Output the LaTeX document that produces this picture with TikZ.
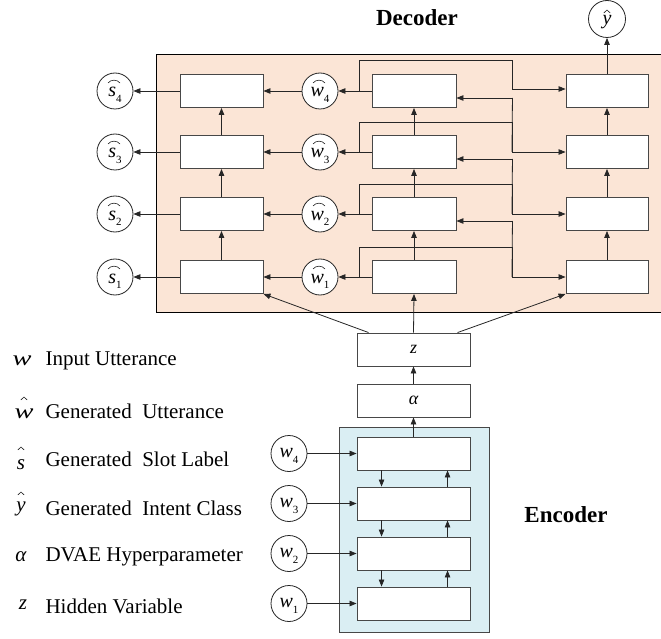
\documentclass[tikz,border=0pt]{standalone}
\usepackage{fontspec}
\setmainfont{Liberation Serif}
\usetikzlibrary{arrows.meta,calc}
\definecolor{decfill}{HTML}{FBE5D6}
\definecolor{encfill}{HTML}{DAEEF3}
\definecolor{ink}{HTML}{262626}

% italic letters with an upright subscript
\newcommand{\sub}[2]{{\itshape #1}\raisebox{-0.28em}{\fontsize{11}{11}\selectfont #2}}
\newcommand{\wideW}{\scalebox{1.35}[1]{\itshape w}}

\tikzset{
  cell/.style={draw=ink!85, fill=white, line width=0.9pt, minimum width=83pt,
               minimum height=33pt, inner sep=0pt},
  wcell/.style={cell, minimum width=113pt},
  var/.style={circle, draw=ink, fill=white, line width=0.8pt, minimum size=36pt,
              inner sep=0pt},
  lbl/.style={inner sep=0pt, font=\fontsize{20}{20}\selectfont},
  link/.style={draw=ink, line width=0.8pt},
  arr/.style={link, -{Triangle[length=7pt,width=5.5pt]}},
  heading/.style={font=\fontsize{23}{26}\selectfont\bfseries},
  legsym/.style={inner sep=0pt, font=\fontsize{21}{24}\selectfont},
  legtxt/.style={font=\fontsize{21}{24}\selectfont, anchor=west},
  archat/.pic={\draw[ink, line width=0.6pt] (-6,2) .. controls (-3,-1.8) and (3,-1.8) .. (6,2);},
  chevhat/.pic={\draw[ink, line width=0.6pt] (-3.2,2) -- (0,-1) -- (3.2,2);},
}

\begin{document}
\begin{tikzpicture}[x=1pt, y=-1pt]
\useasboundingbox (0,0) rectangle (661,639);

% panels
\draw[fill=decfill, draw=black, line width=0.9pt] (156,54) rectangle (664,312);
\draw[fill=encfill, draw=ink!85, line width=0.9pt] (339,427) rectangle (489,632);

\node[heading] (dec) at (417,18) {Decoder};
\node[heading] (enc) at (566,515) {Encoder};

% decoder rows
\foreach \i/\y in {1/277, 2/214, 3/152, 4/91} {
  \node[cell] (a\i) at (221.5,\y) {};
  \node[cell, minimum width=84pt] (b\i) at (414,\y) {};
  \node[cell, minimum width=82pt] (c\i) at (607,\y) {};
  \node[var] (s\i) at (115,\y) {};
  \node[lbl, anchor=base] (st\i) at ($(s\i.center)+(0,6)$) {\sub{s}{\i}};
  \pic at ($(s\i.center)+(-1,-10)$) {archat};
  \node[var] (h\i) at (320,\y) {};
  \node[lbl, anchor=base] (ht\i) at ($(h\i.center)+(0,6)$) {\sub{w}{\i}};
  \pic at ($(h\i.center)+(-1,-10)$) {archat};
  \coordinate (j\i) at (359,\y);
  \draw[arr] (a\i.west) -- (s\i.east);
  \draw[arr] (h\i.west) -- (a\i.east);
  \draw[arr] (b\i.west) -- (h\i.east);
}
\node[var, minimum size=37pt] (yh) at (607,19) {};
\node[lbl, anchor=base] (yt) at ($(yh.center)+(0,6)$) {\itshape y};
\pic at ($(yh.center)+(0,-8)$) {chevhat};

% vertical flow inside the decoder columns
\foreach \p/\q in {1/2, 2/3, 3/4} {
  \draw[arr] (a\p.north) -- (a\q.south);
  \draw[arr] (b\p.north) -- (b\q.south);
  \draw[arr] (c\p.north) -- (c\q.south);
}
\draw[arr] (c4.north) -- (yh.south);

% feedback and cross links of the middle column
\foreach \p/\q/\y in {1/2/277, 2/3/214, 3/4/152} {
  \draw[link] (j\p) -- ($(j\p)+(0,-30)$) -| (512,\y);
  \draw[arr] (512,\y) -- (c\p.west);
  \draw[arr] ($(b\q.east)+(56,7)$) -- ($(b\q.east)+(0,7)$);
  \draw[link] ($(b\q.east)+(56,7)$) -- (512,\y);
}
\draw[link] (j4) -- ($(j4)+(0,-31)$) -| (512,89);
\draw[arr] (512,89) -- (c4.west |- 0,89);

% encoder
\foreach \i/\y in {1/603.5, 2/553.5, 3/503.5, 4/453.5} {
  \node[wcell] (e\i) at (413.5,\y) {};
  \node[var] (w\i) at (289,\y) {};
  \node[lbl, anchor=base] (wt\i) at ($(w\i.center)+(0,4)$) {\sub{w}{\i}};
  \draw[arr] (w\i.east) -- (e\i.west);
}
\foreach \p/\q in {1/2, 2/3, 3/4} {
  \draw[arr] ($(e\q.south west)+(25,0)$) -- ($(e\p.north west)+(25,0)$);
  \draw[arr] ($(e\p.north west)+(91,0)$) -- ($(e\q.south west)+(91,0)$);
}

\node[wcell] (al) at (413.5,400.5) {\fontsize{18}{18}\selectfont\itshape α};
\node[wcell] (z) at (413.5,349.5) {\fontsize{18}{18}\selectfont\itshape z};
\draw[arr] (e4.north) -- (al.south);
\draw[arr] (al.north) -- (z.south);
\draw[arr] (z.north) -- (b1.south);
\draw[arr] ($(z.north west)+(12,0)$) -- (a1.south east);
\draw[arr] ($(z.north west)+(101,0)$) -- (c1.south west);

% legend
\node[legsym] (l1) at (22,361) {\wideW};
\node[legsym] (l2) at (24,414) {\wideW};
\pic at (24,398) {chevhat};
\node[legsym] (l3) at (21,465) {\itshape s};
\pic at (21,448) {chevhat};
\node[legsym, anchor=base] (l4) at (21,511) {\itshape y};
\pic at (21,493) {chevhat};
\node[legsym] (l5) at (21,557) {\itshape α};
\node[legsym] (l6) at (23,605) {\itshape z};
\node[legtxt] (t1) at (42,361) {Input Utterance};
\node[legtxt] (t2) at (42,411) {Generated~ Utterance};
\node[legtxt] (t3) at (42,459) {Generated~ Slot Label};
\node[legtxt] (t4) at (42,508) {Generated~ Intent Class};
\node[legtxt] (t5) at (42,557) {DVAE Hyperparameter};
\node[legtxt] (t6) at (42,606) {Hidden Variable};
\end{tikzpicture}
\end{document}
